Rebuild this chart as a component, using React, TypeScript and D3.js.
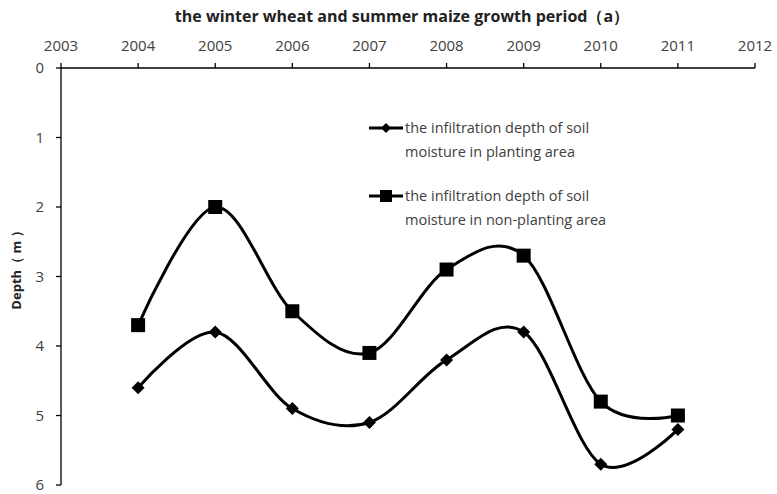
import * as d3 from 'd3'
import React from 'react'

const years = [2004, 2005, 2006, 2007, 2008, 2009, 2010, 2011]
const planting = [4.6, 3.8, 4.9, 5.1, 4.2, 3.8, 5.7, 5.2]
const nonPlanting = [3.7, 2.0, 3.5, 4.1, 2.9, 2.7, 4.8, 5.0]
const xTicks = [2003, 2004, 2005, 2006, 2007, 2008, 2009, 2010, 2011, 2012]
const yTicks = [0, 1, 2, 3, 4, 5, 6]
const legendPlanting = ['the infiltration depth of soil', 'moisture in planting area']
const legendNonPlanting = ['the infiltration depth of soil', 'moisture in non-planting area']

const W = 777
const H = 494
const margin = { left: 61, right: 22, top: 68, bottom: 9 }
const font = '"Open Sans", sans-serif'
const grey = '#404040'

export default function App() {
  const x = d3.scaleLinear().domain([2003, 2012]).range([margin.left, W - margin.right])
  const y = d3.scaleLinear().domain([0, 6]).range([margin.top, H - margin.bottom])

  const lineGen = d3
    .line<number>()
    .x((d, i) => x(years[i]))
    .y((d) => y(d))
    .curve(d3.curveCatmullRom.alpha(0))

  const diamond = (cx: number, cy: number, r: number) =>
    `M${cx},${cy - r}L${cx + r},${cy}L${cx},${cy + r}L${cx - r},${cy}Z`

  return (
    <svg width={W} height={H} style={{ position: 'absolute', left: 0, top: 0, background: '#fff' }}>
      <text x={402} y={22} textAnchor="middle" fontFamily={font} fontWeight="bold" fontSize={16} fill="#222">
        the winter wheat and summer maize growth period（a）
      </text>

      {/* top axis */}
      <line x1={x(2003)} x2={x(2012)} y1={y(0)} y2={y(0)} stroke="#000" strokeWidth={1.3} />
      {xTicks.map((t) => (
        <g key={t}>
          <line x1={x(t)} x2={x(t)} y1={y(0)} y2={y(0) - 5} stroke="#000" strokeWidth={1.3} />
          <text x={x(t)} y={51} textAnchor="middle" fontFamily={font} fontSize={15} fill={grey}>
            {t}
          </text>
        </g>
      ))}

      {/* left axis */}
      <line x1={x(2003)} x2={x(2003)} y1={y(0)} y2={y(6)} stroke="#000" strokeWidth={1.3} />
      {yTicks.map((t) => (
        <g key={t}>
          <line x1={x(2003) - 5} x2={x(2003)} y1={y(t)} y2={y(t)} stroke="#000" strokeWidth={1.3} />
          <text x={44} y={y(t) + 5} textAnchor="end" fontFamily={font} fontSize={15} fill={grey}>
            {t}
          </text>
        </g>
      ))}
      <text
        transform={`translate(21, 267) rotate(-90)`}
        textAnchor="middle"
        fontFamily={font}
        fontWeight="bold"
        fontSize={13}
        fill="#222"
      >
        Depth（ m ）
      </text>

      {/* series */}
      <path d={lineGen(nonPlanting) || ''} fill="none" stroke="#000" strokeWidth={3} />
      <path d={lineGen(planting) || ''} fill="none" stroke="#000" strokeWidth={3} />
      {nonPlanting.map((v, i) => (
        <rect key={'s' + i} x={x(years[i]) - 7} y={y(v) - 7} width={14} height={14} fill="#000" />
      ))}
      {planting.map((v, i) => (
        <path key={'d' + i} d={diamond(x(years[i]), y(v), 6.5)} fill="#000" />
      ))}

      {/* legend */}
      <g>
        <line x1={369} x2={403} y1={128} y2={128} stroke="#000" strokeWidth={3} />
        <path d={diamond(386, 128, 5)} fill="#000" />
        {legendPlanting.map((s, i) => (
          <text key={s} x={405} y={133 + i * 24} fontFamily={font} fontSize={14.5} fill={grey}>
            {s}
          </text>
        ))}
        <line x1={369} x2={403} y1={196} y2={196} stroke="#000" strokeWidth={3} />
        <rect x={380} y={190} width={12} height={12} fill="#000" />
        {legendNonPlanting.map((s, i) => (
          <text key={s + i} x={405} y={201 + i * 24} fontFamily={font} fontSize={14.5} fill={grey}>
            {s}
          </text>
        ))}
      </g>
    </svg>
  )
}
